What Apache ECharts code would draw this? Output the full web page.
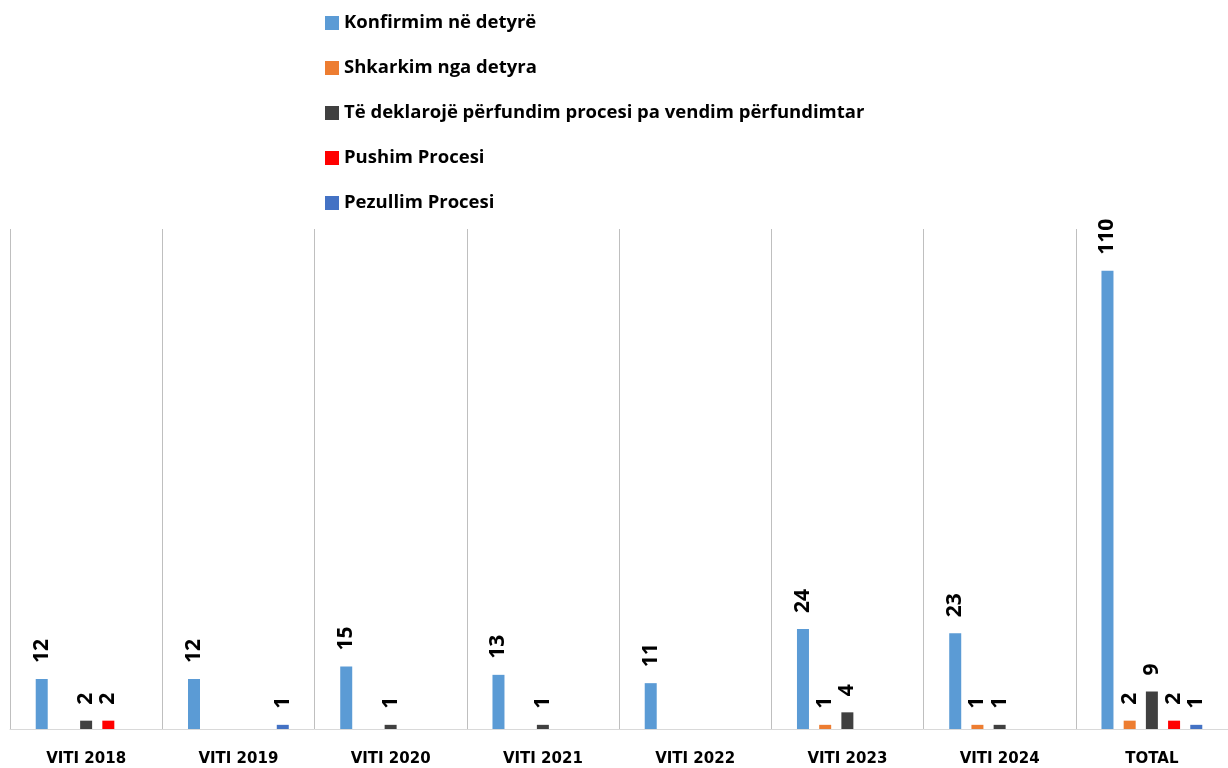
<!DOCTYPE html>
<html>
<head>
<meta charset="utf-8">
<script src="https://cdn.jsdelivr.net/npm/echarts@6/dist/echarts.min.js"></script>
<style>html,body{margin:0;padding:0;background:#fff}#c{width:1228px;height:768px}</style>
</head>
<body>
<div id="c"></div>
<script>
const categories = ['VITI 2018','VITI 2019','VITI 2020','VITI 2021','VITI 2022','VITI 2023','VITI 2024','TOTAL'];
const seriesNames = ['Konfirmim në detyrë','Shkarkim nga detyra','Të deklarojë përfundim procesi pa vendim përfundimtar','Pushim Procesi','Pezullim Procesi'];
const konfirmim = [12, 12, 15, 13, 11, 24, 23, 110];
const shkarkim  = [0, 0, 0, 0, 0, 1, 1, 2];
const deklaroje = [2, 0, 1, 1, 0, 4, 1, 9];
const pushim    = [2, 0, 0, 0, 0, 0, 0, 2];
const pezullim  = [0, 1, 0, 0, 0, 0, 0, 1];
const colors = ['#5B9BD5','#ED7D31','#404040','#FF0000','#4472C4'];

const dataSets = [konfirmim, shkarkim, deklaroje, pushim, pezullim];
const chart = echarts.init(document.getElementById('c'));
chart.setOption({
  animation: false,
  backgroundColor: '#fff',
  legend: {
    orient: 'vertical',
    left: 320,
    top: 8,
    itemWidth: 14,
    itemHeight: 14,
    itemGap: 25,
    icon: 'rect',
    data: seriesNames,
    textStyle: { fontFamily: 'Open Sans', fontWeight: 'bold', fontSize: 18.5, color: '#000', lineHeight: 20 }
  },
  grid: { left: 10, right: -2, top: 229, bottom: 39, containLabel: false },
  xAxis: {
    type: 'category',
    data: categories,
    axisLine: { show: true, lineStyle: { color: '#D9D9D9', width: 1 } },
    axisTick: { show: false },
    splitLine: { show: true, lineStyle: { color: '#BFBFBF', width: 1 } },
    axisLabel: { color: '#000', fontFamily: 'DejaVu Sans', fontWeight: 'bold', fontSize: 15, margin: 23 }
  },
  yAxis: {
    type: 'value', min: 0, max: 120,
    show: false,
    splitLine: { show: false }
  },
  series: dataSets.map((d, i) => ({
    name: seriesNames[i],
    type: 'bar',
    data: d,
    barWidth: 12,
    barGap: '85%',
    itemStyle: { color: colors[i] },
    label: {
      show: true,
      position: 'top',
      rotate: 90,
      align: 'left',
      verticalAlign: 'middle',
      distance: 16,
      fontFamily: 'Open Sans',
      fontWeight: 'bold',
      fontSize: 21,
      color: '#000',
      formatter: p => (p.value === 0 ? '' : String(p.value))
    }
  }))
});
</script>
</body>
</html>
